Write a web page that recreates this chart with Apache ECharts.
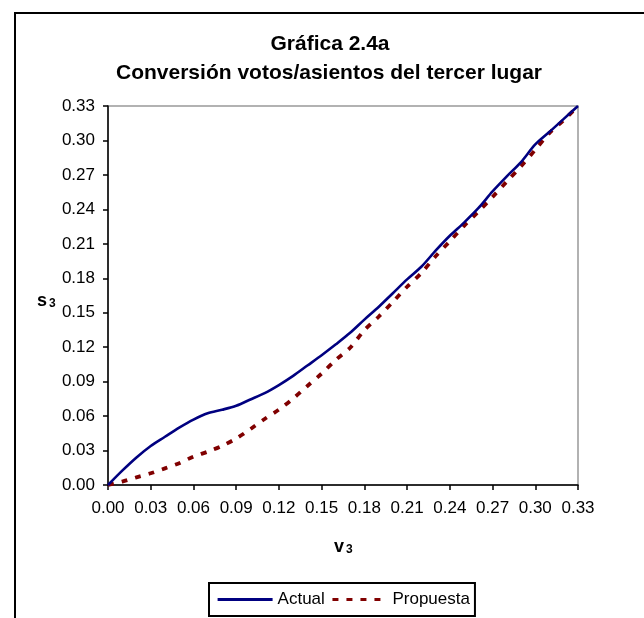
<!DOCTYPE html>
<html><head><meta charset="utf-8">
<script src="https://cdn.jsdelivr.net/npm/echarts@6/dist/echarts.min.js"></script>
<style>html,body{margin:0;padding:0;background:#fff}#c{width:644px;height:618px}</style>
</head><body><div id="c"></div>
<script>
const titleLines = ['Gráfica 2.4a', 'Conversión votos/asientos del tercer lugar'];
const seriesNames = ['Actual', 'Propuesta'];
const xAxisName = ['v', '3'];
const yAxisName = ['s', '3'];
const votes = [0.00, 0.01, 0.02, 0.03, 0.04, 0.05, 0.06, 0.07, 0.08, 0.09, 0.10,
  0.11, 0.12, 0.13, 0.14, 0.15, 0.16, 0.17, 0.18, 0.19, 0.20, 0.21, 0.22,
  0.23, 0.24, 0.25, 0.26, 0.27, 0.28, 0.29, 0.30, 0.31, 0.32, 0.33];
const actual = [0.000, 0.0125, 0.024, 0.034, 0.042, 0.050, 0.057, 0.0625, 0.0655, 0.069, 0.0745,
  0.080, 0.087, 0.095, 0.104, 0.113, 0.1225, 0.1325, 0.144, 0.155, 0.167, 0.179, 0.190,
  0.204, 0.217, 0.2285, 0.241, 0.2556, 0.2687, 0.2812, 0.2965, 0.3075, 0.3188, 0.330];
const propuesta = [0.000, 0.003, 0.0067, 0.0102, 0.0145, 0.019, 0.0247, 0.029, 0.034, 0.0405, 0.0487,
  0.0575, 0.0657, 0.0753, 0.0862, 0.097, 0.109, 0.1195, 0.1348, 0.1465, 0.1594, 0.1726, 0.1846,
  0.1991, 0.2122, 0.2256, 0.2380, 0.2508, 0.2642, 0.2775, 0.2919, 0.3066, 0.3177, 0.330];

const FONT = '"Liberation Sans", Arial, sans-serif';
const chart = echarts.init(document.getElementById('c'), null, {renderer: 'canvas'});
const pairs = arr => votes.map((v, i) => [v, arr[i]]);

chart.setOption({
  animation: false,
  backgroundColor: '#fff',
  grid: {left: 108, top: 106, width: 470, height: 379, show: true, borderColor: '#999', borderWidth: 1.5, backgroundColor: 'transparent'},
  xAxis: {
    type: 'value', min: 0, max: 0.33, interval: 0.03,
    axisLine: {show: true, onZero: false, lineStyle: {color: '#000', width: 1.5}},
    axisTick: {show: true, length: 5, inside: false, lineStyle: {color: '#000', width: 1.5}},
    splitLine: {show: false},
    axisLabel: {color: '#000', fontFamily: FONT, fontSize: 17, margin: 15, formatter: v => v.toFixed(2), showMaxLabel: true}
  },
  yAxis: {
    type: 'value', min: 0, max: 0.33, interval: 0.03,
    axisLine: {show: true, onZero: false, lineStyle: {color: '#000', width: 1.5}},
    axisTick: {show: true, length: 5, inside: false, lineStyle: {color: '#000', width: 1.5}},
    splitLine: {show: false},
    axisLabel: {color: '#000', fontFamily: FONT, fontSize: 17, margin: 13, formatter: v => v.toFixed(2), showMaxLabel: true}
  },
  legend: {
    left: 209, top: 583,
    padding: [8, 5, 8, 7],
    itemGap: 6, itemWidth: 55, itemHeight: 14,
    borderColor: '#000', borderWidth: 2,
    itemStyle: {opacity: 0},
    lineStyle: {width: 3.2},
    textStyle: {color: '#000', fontFamily: FONT, fontSize: 17},
    data: seriesNames
  },
  series: [
    {name: seriesNames[0], type: 'line', data: pairs(actual), symbol: 'none', smooth: 0.3,
     lineStyle: {color: '#000080', width: 2.6}, itemStyle: {color: '#000080'}, z: 3},
    {name: seriesNames[1], type: 'line', data: pairs(propuesta), symbol: 'none', smooth: 0.3,
     lineStyle: {color: '#800000', width: 3.8, type: [6, 8]}, itemStyle: {color: '#800000'}, z: 2}
  ],
  graphic: [
    {type: 'rect', shape: {x: 15, y: 13, width: 700, height: 700}, style: {fill: 'none', stroke: '#000', lineWidth: 2}, silent: true, z: -1},
    {type: 'text', x: 330, y: 44, style: {text: titleLines[0], textAlign: 'center', textVerticalAlign: 'middle', font: 'bold 21px ' + FONT, fill: '#000'}},
    {type: 'text', x: 329, y: 73, style: {text: titleLines[1], textAlign: 'center', textVerticalAlign: 'middle', font: 'bold 21px ' + FONT, fill: '#000'}},
    {type: 'text', x: 37, y: 292, style: {text: '{a|' + yAxisName[0] + '}{b|' + yAxisName[1] + '}', fill: '#000',
      rich: {a: {fontFamily: FONT, fontSize: 18, fontWeight: 'bold', lineHeight: 18}, b: {fontFamily: FONT, fontSize: 12, fontWeight: 'bold', verticalAlign: 'bottom', lineHeight: 11, padding: [0, 0, 0, 2]}}}},
    {type: 'text', x: 334, y: 538, style: {text: '{a|' + xAxisName[0] + '}{b|' + xAxisName[1] + '}', fill: '#000',
      rich: {a: {fontFamily: FONT, fontSize: 18, fontWeight: 'bold', lineHeight: 18}, b: {fontFamily: FONT, fontSize: 12, fontWeight: 'bold', verticalAlign: 'bottom', lineHeight: 11, padding: [0, 0, 0, 2]}}}}
  ]
});
</script>
</body></html>
